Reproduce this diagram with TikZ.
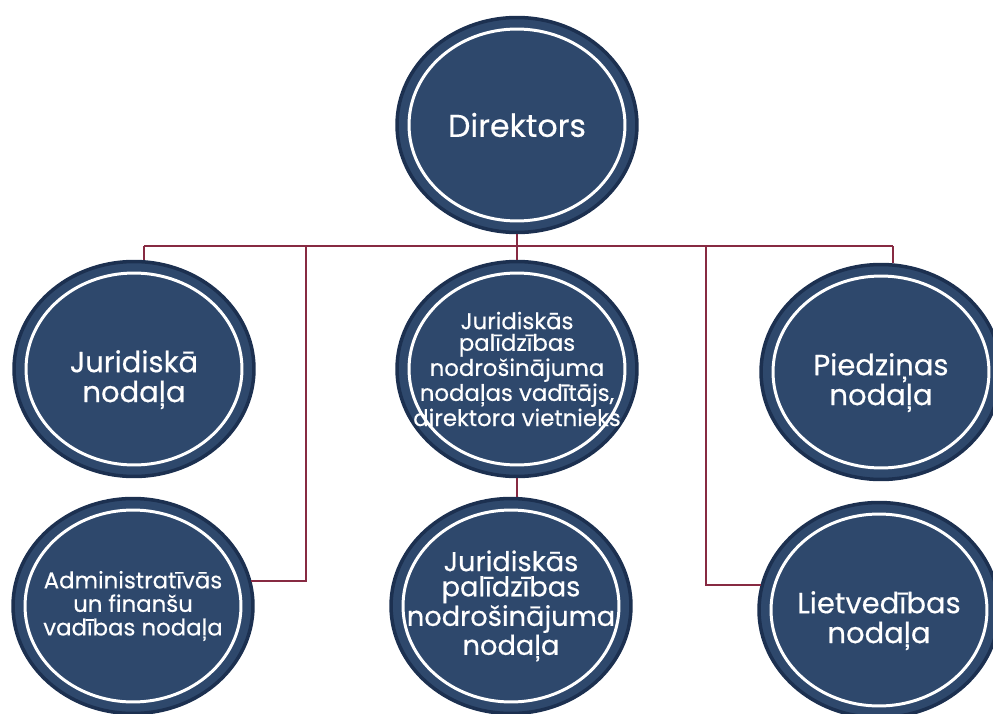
\documentclass[tikz,border=0pt]{standalone}
\usepackage{fontspec}
\newfontfamily\orgfont{Poppins}[FakeBold=0.4]
\usetikzlibrary{shapes.geometric}
\definecolor{unitblue}{RGB}{46,72,108}
\definecolor{unitedge}{RGB}{28,48,80}
\definecolor{linkred}{RGB}{135,42,66}
% pushes a two-line label a little below the centre
\newcommand\lowline{\rule{0pt}{\dimexpr\ht\strutbox+0.45cm\relax}}
\begin{document}
\begin{tikzpicture}[x = 0.02cm, y = -0.02cm,
	unit/.style = {ellipse, fill = unitblue, draw = unitedge, line width = 2pt,
		minimum width = 4.8cm, minimum height = 4.3cm, inner sep = -0.5cm,
		text = white, align = center,
		path picture = {\draw[white, line width = 1.7pt] (path picture bounding box.center) ellipse [x radius = 2.16cm, y radius = 1.92cm];}},
	bigtext/.style = {font = \orgfont\fontsize{18}{20}\selectfont},
	midtext/.style = {font = \orgfont\fontsize{16.5}{17}\selectfont},
	smalltext/.style = {font = \orgfont\fontsize{15.5}{14.3}\selectfont},
	tinytext/.style = {font = \orgfont\fontsize{13}{13.4}\selectfont},
	tiniertext/.style = {font = \orgfont\fontsize{13}{12.3}\selectfont},
	link/.style = {draw = linkred, line width = 1.2pt}]
	\useasboundingbox ( 0, 0) rectangle ( 993, 713);
	% top
	\node[unit, bigtext] (dir) at ( 517, 125) {Direktors};
	% first row
	\node[unit, midtext] (jur) at ( 134, 369) {\lowline Juridiskā\\nodaļa};
	\node[unit, tiniertext] (vad) at ( 517, 369) {Juridiskās\\palīdzības\\nodrošinājuma\\nodaļas vadītājs,\\direktora vietnieks};
	\node[unit, midtext] (pie) at ( 881, 372) {\lowline Piedziņas\\nodaļa};
	% second row
	\node[unit, tinytext] (adm) at ( 133, 606) {Administratīvās\\un finanšu\\vadības nodaļa};
	\node[unit, smalltext] (jpn) at ( 511, 606) {Juridiskās\\palīdzības\\nodrošinājuma\\nodaļa};
	\node[unit, midtext] (lie) at ( 879, 610) {\lowline Lietvedības\\nodaļa};
	% lines
	\coordinate (busL) at ( 144, 246);
	\coordinate (busR) at ( 893, 246);
	\coordinate (admL) at ( 306, 246);
	\coordinate (lieL) at ( 706, 246);
	\draw[link] (busL) -- (busR);
	\draw[link] (busL) -- (busL |- jur.north);
	\draw[link] (busR) -- (busR |- pie.north);
	\draw[link] (dir.south) -- (vad.north);
	\draw[link] (vad.south) -- (jpn.north -| vad.south);
	\draw[link] (admL) |- (adm.12);
	\draw[link] (lieL) |- (lie.168);
\end{tikzpicture}
\end{document}
